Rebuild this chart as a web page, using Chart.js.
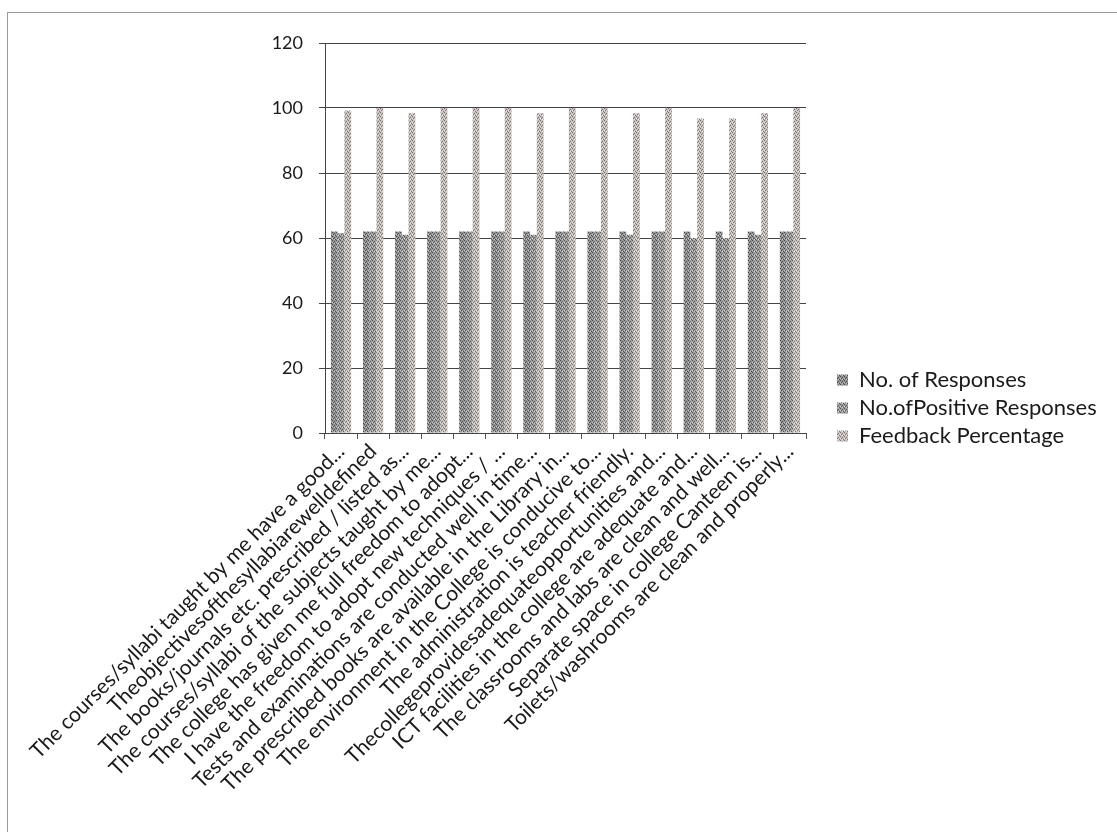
<!DOCTYPE html>
<html>
<head>
<meta charset="utf-8">
<script src="https://cdn.jsdelivr.net/npm/chart.js@4.4.1/dist/chart.umd.min.js"></script>
<style>
  html, body { margin: 0; padding: 0; background: #ffffff; }
  #frame { position: absolute; left: 7px; top: 12px; width: 1120px; height: 830px;
           border-top: 1px solid #9a9a9a; border-left: 1px solid #9a9a9a; }
  #c { position: absolute; left: 0; top: 0; }
</style>
</head>
<body>
<div id="frame"></div>
<canvas id="c" width="1117" height="832"></canvas>
<script>
const categories = [
  "The courses/syllabi taught by me have a good...",
  "Theobjectivesofthesyllabiarewelldefined",
  "The books/journals etc. prescribed / listed as...",
  "The courses/syllabi of the subjects taught by me...",
  "The college has given me full freedom to adopt...",
  "I have the freedom to adopt new techniques / ...",
  "Tests and examinations are conducted well in time...",
  "The prescribed books are available in the Library in...",
  "The environment in the College is conducive to...",
  "The administration is teacher friendly.",
  "Thecollegeprovidesadequateopportunities and...",
  "ICT facilities in the college are adequate and...",
  "The classrooms and labs are clean and well...",
  "Separate space in college Canteen is...",
  "Toilets/washrooms are clean and properly..."
];
const seriesNames = ["No. of Responses", "No.ofPositive Responses", "Feedback Percentage"];
const responses = [62, 62, 62, 62, 62, 62, 62, 62, 62, 62, 62, 62, 62, 62, 62];
const positiveResponses = [61.5, 62, 61, 62, 62, 62, 61, 62, 62, 61, 62, 60, 60, 61, 62];
const feedbackPercentage = [99.2, 100, 98.4, 100, 100, 100, 98.4, 100, 100, 98.4, 100, 96.8, 96.8, 98.4, 100];
const yTicks = [0, 20, 40, 60, 80, 100, 120];

function makePattern(base, dot, dot2) {
  const p = document.createElement('canvas');
  p.width = 4; p.height = 4;
  const g = p.getContext('2d');
  g.fillStyle = base; g.fillRect(0, 0, 4, 4);
  g.fillStyle = dot;
  [[0,0],[2,1],[1,2],[3,3]].forEach(([x,y]) => g.fillRect(x, y, 1, 1));
  g.fillStyle = dot2;
  [[2,3],[0,2]].forEach(([x,y]) => g.fillRect(x, y, 1, 1));
  return g.createPattern(p, 'repeat');
}
const ctx = document.getElementById('c').getContext('2d');
const fills = [
  makePattern('#949494', '#4a4a4a', '#c8c8c8'),
  makePattern('#a0a0a0', '#555555', '#d2d2d2'),
  makePattern('#c9c0c0', '#7e7474', '#ebe6e6')
];
const FONT = "Lato, 'Liberation Sans', sans-serif";
const LEG_SIZE = 22, LEG_PAD = 6, LEG_BOX = 11;

// legend width as Chart.js computes it, so the plot's right edge can be placed
ctx.font = LEG_SIZE + "px " + FONT;
const maxText = Math.max(...seriesNames.map(s => ctx.measureText(s).width));
const legendW = 2 * LEG_PAD + LEG_BOX + LEG_SIZE / 2 + maxText;
const PLOT_RIGHT = 810, GAP = 25;
const padRight = Math.max(0, 1117 - PLOT_RIGHT - GAP - legendW);

new Chart(ctx, {
  type: 'bar',
  data: {
    labels: categories,
    datasets: [
      { label: seriesNames[0], data: responses, backgroundColor: fills[0], borderWidth: 0 },
      { label: seriesNames[1], data: positiveResponses, backgroundColor: fills[1], borderWidth: 0 },
      { label: seriesNames[2], data: feedbackPercentage, backgroundColor: fills[2], borderWidth: 0 }
    ]
  },
  options: {
    responsive: false,
    animation: false,
    devicePixelRatio: 1,
    datasets: { bar: { categoryPercentage: 0.63, barPercentage: 1.0 } },
    layout: { padding: { top: 43, left: 0, right: padRight, bottom: 0 } },
    plugins: {
      tooltip: { enabled: false },
      legend: {
        position: 'right',
        align: 'start',
        maxWidth: 400,
        title: { display: true, text: '', font: { size: 10, lineHeight: 1 }, padding: { top: 0, bottom: 310 } },
        labels: {
          font: { family: FONT, size: LEG_SIZE },
          color: '#1a1a1a',
          boxWidth: LEG_BOX,
          boxHeight: LEG_BOX,
          padding: LEG_PAD
        }
      }
    },
    scales: {
      x: {
        grid: { display: true, drawOnChartArea: false, drawTicks: true, tickLength: 6, color: '#555', offset: true },
        border: { display: true, color: '#444', width: 1 },
        ticks: {
          autoSkip: false, maxRotation: 45, minRotation: 45,
          font: { family: FONT, size: 21 }, color: '#1a1a1a', padding: 0
        },
        afterFit: s => { s.height = 832 - 433; }
      },
      y: {
        min: 0, max: 120,
        afterBuildTicks: s => { s.ticks = yTicks.map(v => ({ value: v })); },
        grid: { color: '#444', lineWidth: 1, drawTicks: true, tickLength: 6 },
        border: { display: true, color: '#444', width: 1 },
        ticks: { font: { family: FONT, size: 18 }, color: '#1a1a1a', padding: 16 },
        afterFit: s => { s.width = 325; }
      },
      gap: {
        position: 'right', display: true,
        grid: { display: false }, border: { display: false }, ticks: { display: false },
        afterFit: s => { s.width = GAP; }
      }
    }
  }
});
</script>
</body>
</html>
